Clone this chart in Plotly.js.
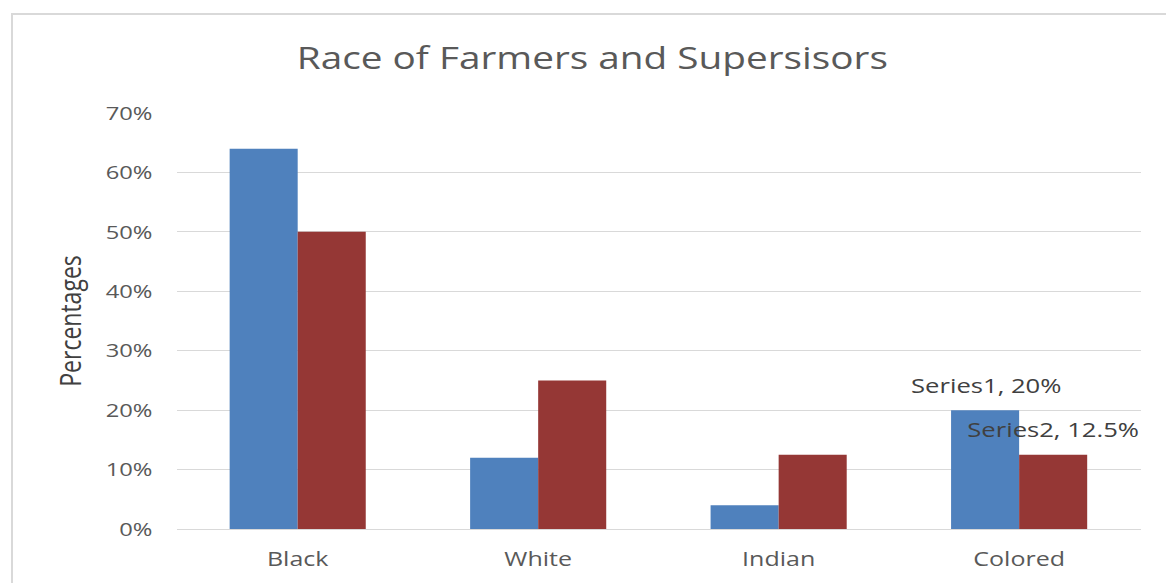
<!DOCTYPE html>
<html>
<head>
<meta charset="utf-8">
<script src="https://cdn.plot.ly/plotly-3.0.1.min.js"></script>
<style>
  html, body { margin: 0; padding: 0; background: #ffffff; }
  #wrap { position: relative; width: 1166px; height: 583px; overflow: hidden; }
  /* the chart is laid out narrow and widened, which gives its wide lettering */
  #chart { position: absolute; left: 0; top: 0; width: 933px; height: 583px;
           transform: scaleX(1.2497); transform-origin: 0 0; }
  #frame { position: absolute; left: 11px; top: 13px; width: 1170px; height: 600px;
           border-left: 2px solid #d9d9d9; border-top: 2px solid #d9d9d9;
           pointer-events: none; box-sizing: border-box; }
</style>
</head>
<body>
<div id="wrap">
  <div id="chart"></div>
  <div id="frame"></div>
</div>
<script>
// Share of each race among farmers (Series1) and supervisors (Series2)
const categories = ['Black', 'White', 'Indian', 'Colored'];
const series1 = [0.64, 0.12, 0.04, 0.20];
const series2 = [0.50, 0.25, 0.125, 0.125];
const seriesNames = ['Series1', 'Series2'];

const font = '"Open Sans", "Noto Sans", sans-serif';
const grey = '#595959';

const traces = [
  { type: 'bar', name: seriesNames[0], x: categories, y: series1,
    marker: { color: '#4f81bd' }, hoverinfo: 'x+y' },
  { type: 'bar', name: seriesNames[1], x: categories, y: series2,
    marker: { color: '#953735' }, hoverinfo: 'x+y' }
];

// Data labels for the last category, as "name, value"
const last = categories.length - 1;
const pct = v => (Math.round(v * 1000) / 10) + '%';
const annotations = [
  { x: categories[last], y: series1[last], xshift: -27, yshift: 25,
    text: seriesNames[0] + ', ' + pct(series1[last]) },
  { x: categories[last], y: series2[last], xshift: 27, yshift: 26,
    text: seriesNames[1] + ', ' + pct(series2[last]) }
].map(a => Object.assign({
  xref: 'x', yref: 'y', showarrow: false,
  font: { family: font, size: 20.5, color: '#404040' }
}, a));

const layout = {
  width: 933, height: 583,
  margin: { l: 142, r: 20, t: 113, b: 54 },
  paper_bgcolor: 'rgba(0,0,0,0)', plot_bgcolor: 'rgba(0,0,0,0)',
  showlegend: false,
  barmode: 'group', bargap: 0.434, bargroupgap: 0,
  title: { text: 'Race of Farmers and Supersisors',
           font: { family: font, size: 31, color: grey },
           x: 0.508, xanchor: 'center', y: 0.9, yanchor: 'middle' },
  xaxis: { type: 'category', showgrid: false, zeroline: false, showline: false,
           ticks: '', ticklabelstandoff: 16,
           tickfont: { family: font, size: 20, color: grey } },
  yaxis: { range: [0, 0.7], dtick: 0.1, tickformat: '.0%',
           showgrid: true, gridcolor: '#d9d9d9', gridwidth: 1,
           zeroline: true, zerolinecolor: '#d9d9d9', zerolinewidth: 1,
           showline: false, ticks: '', ticklabelstandoff: 19,
           tickfont: { family: font, size: 19, color: grey },
           title: { text: 'Percentages', standoff: 12,
                    font: { family: font, size: 23, color: '#404040' } } },
  annotations: annotations
};

Plotly.newPlot('chart', traces, layout, { displayModeBar: false, staticPlot: true });
</script>
</body>
</html>
